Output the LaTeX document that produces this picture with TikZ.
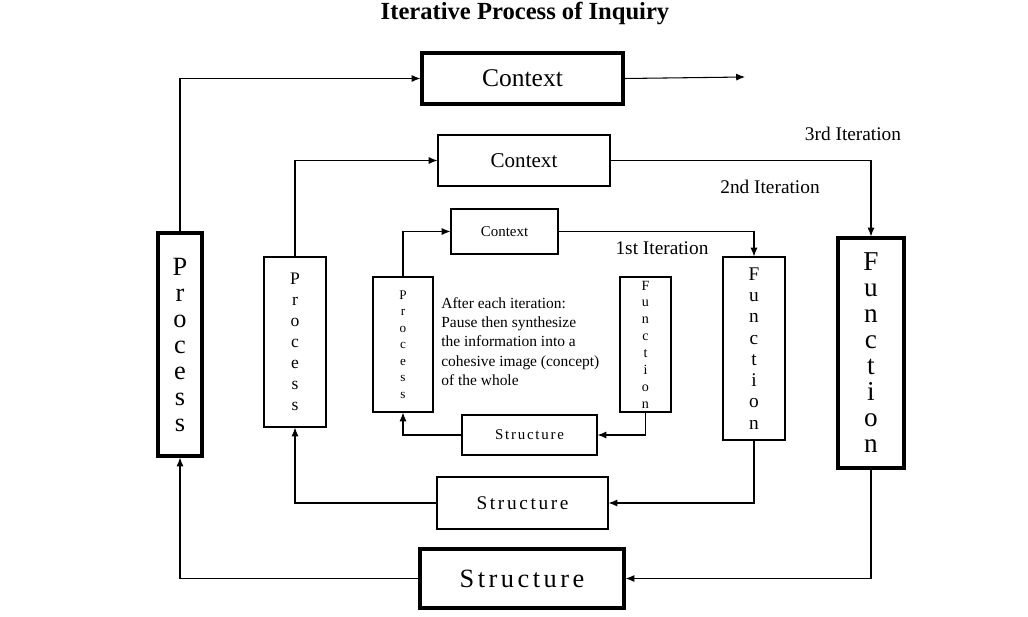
\documentclass[tikz,border=0pt]{standalone}
\usepackage{fontspec}
\setmainfont{Liberation Serif}
\usetikzlibrary{arrows.meta}
\newcommand{\fs}[2]{\fontsize{#1}{#2}\selectfont}
\begin{document}
\begin{tikzpicture}[x=0.02cm,y=-0.02cm,
 thk/.style={draw,line width=1.8pt,inner sep=0pt},
 thn/.style={draw,line width=0.6pt,inner sep=0pt},
 con/.style={line width=0.6pt,-{Latex[length=5pt,width=4pt]}},
 lab/.style={font=\fs{11}{11}}]
\useasboundingbox (0,0) rectangle (1028,616);
\node[font=\bfseries\fs{14}{14}] (title) at (525,13) {Iterative Process of Inquiry};
% 3rd
\node[thk,minimum width=201*0.02cm,minimum height=51*0.02cm,font=\fs{14.5}{14.5}] (c3) at (522.5,78.5) {Context};
\node[thk,minimum width=44*0.02cm,minimum height=223*0.02cm,font=\fs{15}{14.8},align=center] (p3) at (180,344.5) {P\\r\\o\\c\\e\\s\\s};
\node[thk,minimum width=66*0.02cm,minimum height=230*0.02cm,font=\fs{15.5}{14.8},align=center] (f3) at (871,353) {F\\u\\n\\c\\t\\i\\o\\n};
\node[thk,minimum width=204*0.02cm,minimum height=59*0.02cm,font=\fs{15}{15}] (s3) at (522,578.5) {S\kern2pt t\kern2pt r\kern2pt u\kern2pt c\kern2pt t\kern2pt u\kern2pt r\kern2pt e};
\coordinate (e3) at (745,77);
\draw[con] (c3.east) -- (e3);
\draw[con] (p3.north) |- (c3.west);
\draw[con] (f3.south) |- (s3.east);
\draw[con] (s3.west) -| (p3.south);
% 2nd
\node[thn,minimum width=172*0.02cm,minimum height=51*0.02cm,font=\fs{12}{12}] (c2) at (524,160.5) {Context};
\node[thn,minimum width=62*0.02cm,minimum height=170*0.02cm,font=\fs{10}{11.9},align=center] (p2) at (295,342) {P\\r\\o\\c\\e\\s\\s};
\node[thn,minimum width=62*0.02cm,minimum height=183*0.02cm,font=\fs{11}{12.1},align=center] (f2) at (754,348.5) {F\\u\\n\\c\\t\\i\\o\\n};
\node[thn,minimum width=171*0.02cm,minimum height=52*0.02cm,font=\fs{11}{11}] (s2) at (522.5,503) {S\kern1.5pt t\kern1.5pt r\kern1.5pt u\kern1.5pt c\kern1.5pt t\kern1.5pt u\kern1.5pt r\kern1.5pt e};
\draw[con] (c2.east) -| (f3.north);
\draw[con] (p2.north) |- (c2.west);
\draw[con] (f2.south) |- (s2.east);
\draw[con] (s2.west) -| (p2.south);
% 1st
\node[thn,minimum width=107*0.02cm,minimum height=45*0.02cm,font=\fs{8.5}{8.5}] (c1) at (504.5,231.5) {Context};
\node[thn,minimum width=60*0.02cm,minimum height=135*0.02cm,font=\fs{7.5}{9.4},align=center] (p1) at (403,344.5) {P\\r\\o\\c\\e\\s\\s};
\node[thn,minimum width=51*0.02cm,minimum height=135*0.02cm,font=\fs{8}{9.6},align=center] (f1) at (645.5,344.5) {F\\u\\n\\c\\t\\i\\o\\n};
\node[thn,minimum width=135*0.02cm,minimum height=40*0.02cm,font=\fs{8.5}{8.5}] (s1) at (529.5,435) {S\kern1pt t\kern1pt r\kern1pt u\kern1pt c\kern1pt t\kern1pt u\kern1pt r\kern1pt e};
\draw[con] (c1.east) -| (f2.north);
\draw[con] (p1.north) |- (c1.west);
\draw[con] (f1.south) |- (s1.east);
\draw[con] (s1.west) -| (p1.south);
% labels
\node[lab] (l3) at (853,134) {3rd Iteration};
\node[lab] (l2) at (770,187) {2nd Iteration};
\node[lab] (l1) at (662,248) {1st Iteration};
\node[anchor=north west,align=left,font=\fs{8.8}{11},inner sep=0pt] (txt) at (441,297) {After each iteration:\\Pause then synthesize\\the information into a\\cohesive image (concept)\\of the whole};
\end{tikzpicture}
\end{document}
